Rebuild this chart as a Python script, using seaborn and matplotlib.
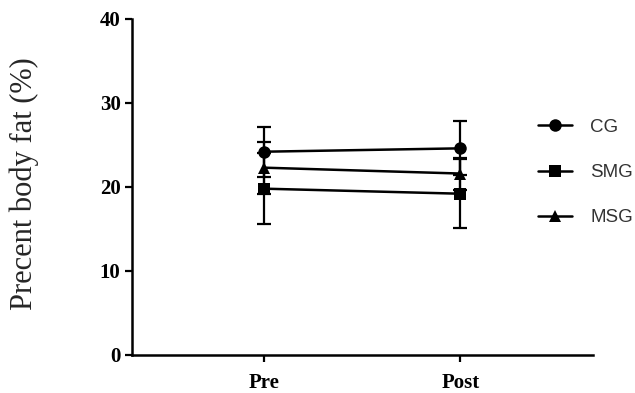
import matplotlib
matplotlib.use("Agg")
import matplotlib.pyplot as plt
import seaborn as sns
import pandas as pd
from matplotlib.lines import Line2D

# Group means and standard deviations of percent body fat
timepoints = ["Pre", "Post"]
groups = ["CG", "SMG", "MSG"]
cg_mean = [24.2, 24.6]
cg_sd = [3.0, 3.2]
smg_mean = [19.8, 19.2]
smg_sd = [4.2, 4.1]
msg_mean = [22.3, 21.6]
msg_sd = [3.1, 1.9]
y_ticks = [0, 10, 20, 30, 40]

group_means = {"CG": cg_mean, "SMG": smg_mean, "MSG": msg_mean}
group_sds = {"CG": cg_sd, "SMG": smg_sd, "MSG": msg_sd}
group_markers = {"CG": "o", "SMG": "s", "MSG": "^"}

# Each group/time point is represented by its lower and upper SD bound:
# the mean of the pair is the group mean, the pair's range is the error bar.
rows = []
for g in groups:
    for t, m, s in zip(timepoints, group_means[g], group_sds[g]):
        rows.append({"time": t, "group": g, "fat": m - s})
        rows.append({"time": t, "group": g, "fat": m + s})
df = pd.DataFrame(rows)

sns.set_theme(style="ticks")
plt.rcParams["font.family"] = ["Liberation Serif", "DejaVu Serif"]

fig = plt.figure(figsize=(6.35, 3.93), dpi=100)
ax = fig.add_axes([0.2074, 0.0967, 0.7266, 0.855])

sns.lineplot(
    data=df, x="time", y="fat", hue="group", style="group",
    hue_order=groups, style_order=groups,
    palette={g: "black" for g in groups},
    markers=group_markers, dashes=False,
    estimator="mean", errorbar=lambda v: (v.min(), v.max()),
    err_style="bars",
    err_kws={"capsize": 4.7, "capthick": 1.6, "elinewidth": 1.6},
    linewidth=1.8, markersize=9, markeredgewidth=0,
    legend=False, ax=ax,
)

ax.set_xlim(-0.674, 1.676)
ax.set_ylim(0, 40)
ax.set_yticks(y_ticks)
ax.set_xlabel("")
ax.set_ylabel("Precent body fat (%)", fontsize=22)
ax.yaxis.set_label_coords(-0.200, 0.51)
sns.despine(ax=ax)
for side in ("left", "bottom"):
    ax.spines[side].set_linewidth(1.8)
    ax.spines[side].set_color("black")
ax.tick_params(axis="both", direction="out", length=5, width=1.6,
               color="black", labelsize=15, labelcolor="black")
ax.tick_params(axis="x", pad=8)
ax.tick_params(axis="y", pad=3)
for lbl in ax.get_xticklabels() + ax.get_yticklabels():
    lbl.set_fontweight("bold")

handles = [
    Line2D([], [], color="black", linewidth=1.8, marker=group_markers[g],
           markersize=9, markeredgewidth=0)
    for g in groups
]
leg = fig.legend(
    handles, groups, loc="upper left", bbox_to_anchor=(0.835, 0.717),
    frameon=False, handlelength=1.85, handletextpad=0.95,
    labelspacing=1.5, borderaxespad=0,
    prop={"family": "Liberation Sans", "size": 13.5},
)
for txt in leg.get_texts():
    txt.set_color("#333333")

fig.savefig("out.png", dpi=100)
